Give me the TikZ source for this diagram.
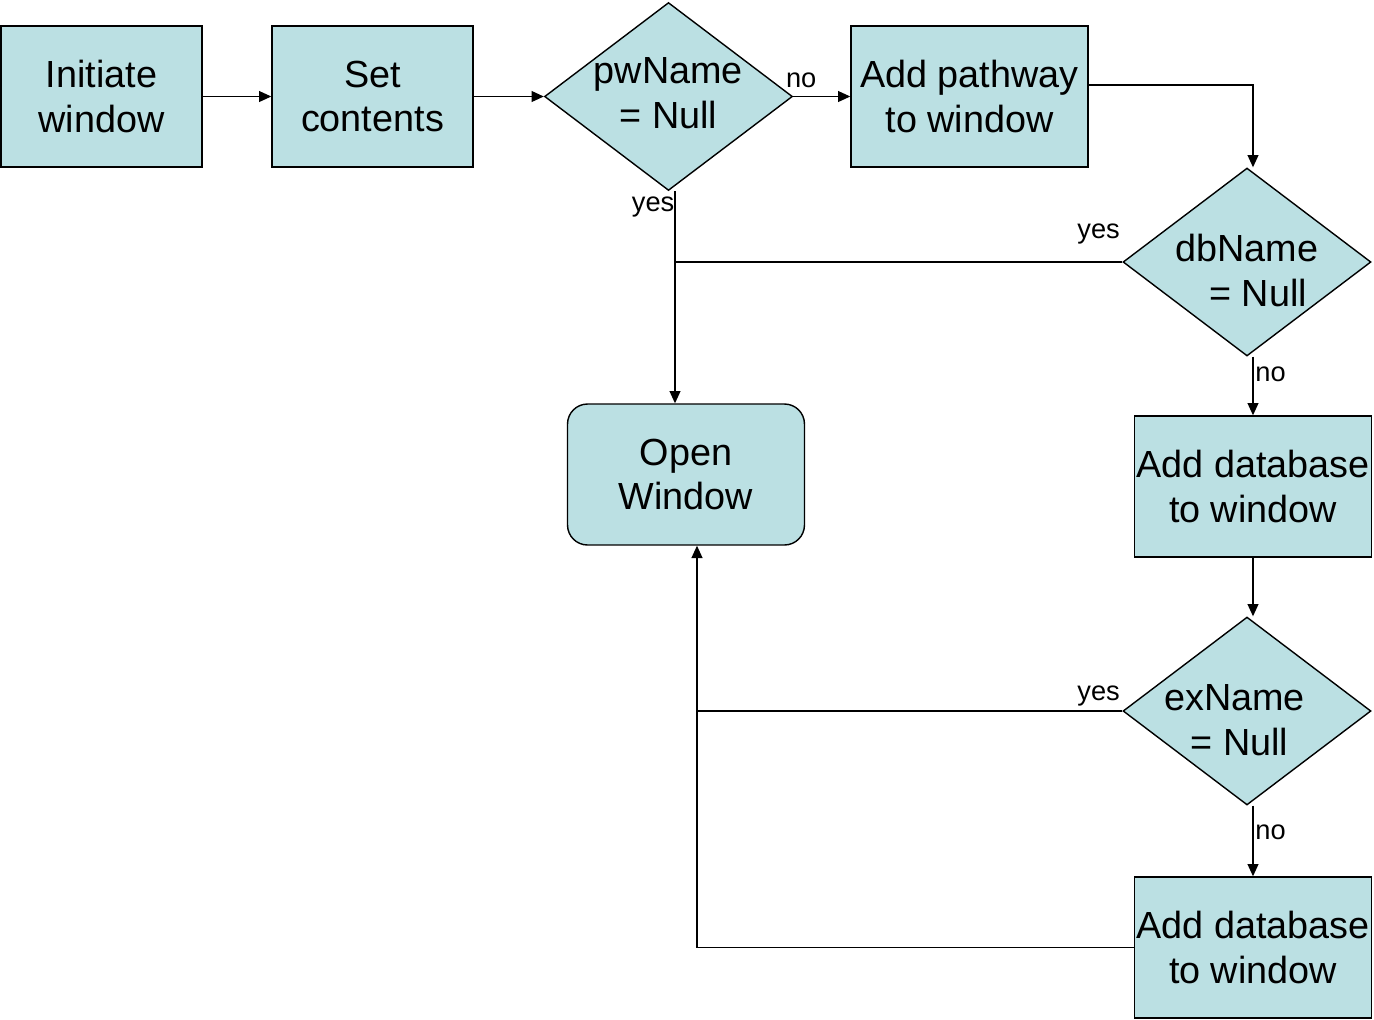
\documentclass[tikz,border=0pt]{standalone}
\usepackage{fontspec}
\setmainfont{Liberation Sans}
\usepackage{tikz}
\usetikzlibrary{shapes, shapes.geometric, calc, arrows, arrows.meta}

\definecolor{boxfill}{HTML}{BBE0E3}

\begin{document}
\begin{tikzpicture}[x=0.02cm, y=-0.02cm,
		stepbox/.style={rectangle, draw, line width=0.8pt, fill=boxfill, minimum width=4.74cm, minimum height=2.82cm, align=center, inner sep=0pt, font=\fontsize{21.5}{25.5}\selectfont},
		test/.style={diamond, draw, line width=0.8pt, fill=boxfill, minimum width=4.96cm, minimum height=3.76cm, aspect=1.32, align=center, inner sep=-0.4cm, font=\fontsize{21.5}{25.5}\selectfont},
		endbox/.style={stepbox, rounded corners=0.4cm},
		line/.style={line width=0.8pt},
		arr/.style={line, -{Triangle[length=7pt,width=6.2pt]}},
		lbl/.style={font=\fontsize{15.5}{17}\selectfont, inner sep=1pt}]
		\useasboundingbox (0,0) rectangle (1374,1019);
		
		\node[stepbox, minimum width=4.02cm] (init) at (101.5,96.5) {Initiate\\window};
		\node[stepbox, minimum width=4.02cm] (set) at (372.5,96.5) {Set\\contents};
		\node[test] (pw) at (668.5,96.5) {\raisebox{0.13cm}{pwName}\\\raisebox{0.13cm}{= Null}};
		\node[stepbox] (path) at (969.5,96.5) {Add pathway\\to window};
		
		\node[test] (db) at (1247,262) {\rule{0pt}{0.9cm}dbName\\\hspace*{0.45cm}= Null};
		\node[stepbox] (add1) at (1253,486.5) {Add database\\to window};
		\node[test] (ex) at (1247,711) {\rule{0pt}{0.9cm}exName\hspace*{0.5cm}\\\hspace*{0.2cm}= Null\hspace*{0.5cm}};
		\node[stepbox] (add2) at (1253,947.5) {Add database\\to window};
		
		\node[endbox] (open) at (686,474.5) {Open\\Window};
		
		\coordinate (j1) at (675,262);
		\coordinate (j2) at (697,711);
		
		\draw[arr] (init) -- (set);
		\draw[arr] (set) -- (pw);
		\draw[arr] (pw.east) -- node[lbl, above, pos=0.14, yshift=0.12cm] {no} (path.west);
		\draw[arr] ([yshift=0.23cm]path.east) -| (db.north -| add1.north);
		
		\draw[arr] (pw.south -| j1) -- node[lbl, anchor=east, pos=0.075, inner sep=0pt] {yes} (open.north -| j1);
		\draw[line] (db.west) -- node[lbl, above left, pos=0.0, yshift=0.3cm] {yes} (j1);
		\draw[arr] (db.south -| add1.north) -- node[lbl, right, pos=0.3] {no} (add1.north);
		\draw[arr] (add1) -- (ex.north -| add1.north);
		
		\draw[arr] (ex.west) -- node[lbl, above left, pos=0.0, yshift=0.05cm] {yes} (j2) -- (open.south -| j2);
		\draw[arr] (ex.south -| add2.north) -- node[lbl, right, pos=0.38] {no} (add2.north);
		\draw[line] (add2.west) -| (j2);
	\end{tikzpicture}
\end{document}
